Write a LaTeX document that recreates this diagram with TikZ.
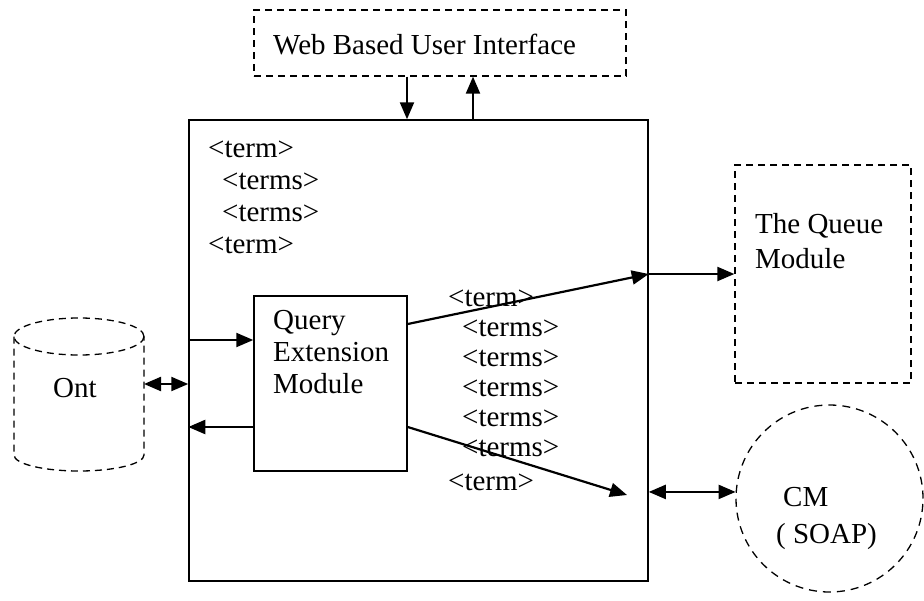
\documentclass[tikz,border=0pt]{standalone}
\usepackage{fontspec}
\setmainfont{Liberation Serif}
\usetikzlibrary{arrows.meta, positioning}
\tikzset{>={Triangle[length=17pt,width=14pt]}}
\tikzset{
  dashbox/.style={draw, dash pattern=on 7pt off 5pt, line width=1.3pt, inner sep=0pt},
  solidbox/.style={draw, line width=1.5pt, inner sep=0pt},
  lbl/.style={anchor=base west, inner sep=0pt, font=\fontsize{29}{33}\selectfont},
  conn/.style={line width=2.2pt, ->},
  biconn/.style={line width=2.2pt, <->},
}

\begin{document}
\begin{tikzpicture}[x=1pt,y=-1pt]
\useasboundingbox (0,0) rectangle (924,600);
% boxes
\node[dashbox, minimum width=372, minimum height=66] (web) at (440,43) {};
\node[solidbox, minimum width=459, minimum height=461] (main) at (418.5,350.5) {};
\node[solidbox, minimum width=153, minimum height=175] (qem) at (330.5,383.5) {};
\node[dashbox, minimum width=176, minimum height=218] (queue) at (823,274) {};
\node[dashbox, circle, minimum size=187, dash pattern=on 8pt off 6pt] (cm) at (829.5,498.5) {};
% ont cylinder
\draw[dash pattern=on 7pt off 5pt, line width=1.3pt] (79,336.5) ellipse [x radius=65, y radius=18.5];
\draw[dash pattern=on 7pt off 5pt, line width=1.3pt] (14,336.5) -- (14,455) arc [start angle=180, end angle=0, x radius=65, y radius=16] -- (144,336.5);
\coordinate (ontR) at (144,384);
\coordinate (tip) at (627,495);
% texts
\node[lbl] (webtxt) at (273,54) {Web Based User Interface};
\node[lbl] (a1) at (208,157) {<term>};
\node[lbl] (a2) at (222,189) {<terms>};
\node[lbl] (a3) at (222,221) {<terms>};
\node[lbl] (a4) at (208,253) {<term>};
\node[lbl] (q1) at (273,329) {Query};
\node[lbl] (q2) at (273,361) {Extension};
\node[lbl] (q3) at (273,393) {Module};
\node[lbl] (b1) at (448,306) {<term>};
\foreach \y [count=\i from 2] in {336,366,396,426,456}
  \node[lbl] (b\i) at (462,\y) {<terms>};
\node[lbl] (b7) at (448,490) {<term>};
\node[lbl] (u1) at (755,233) {The Queue};
\node[lbl] (u2) at (755,268) {Module};
\node[lbl] (c1) at (783,506) {CM};
\node[lbl] (c2) at (776,543) {( SOAP)};
\node[lbl] (ont) at (53,397) {Ont};
% connectors
\draw[conn] ([xshift=-33]web.south) -- ([xshift=-33]web.south |- main.north);
\draw[conn] ([xshift=33]web.south |- main.north) -- ([xshift=33]web.south);
\draw[conn] (main.west |- 0,340) -- (qem.west |- 0,340);
\draw[conn] (qem.west |- 0,427) -- (main.west |- 0,427);
\draw[biconn] (ontR) -- (main.west |- ontR);
\draw[conn] (qem.east |- 0,324) -- (main.east |- queue.west);
\draw[conn] (main.east |- queue.west) -- (queue.west);
\draw[conn] (qem.east |- 0,427) -- (tip);
\draw[biconn] (main.east |- cm.176) -- (cm.176);
\end{tikzpicture}
\end{document}
